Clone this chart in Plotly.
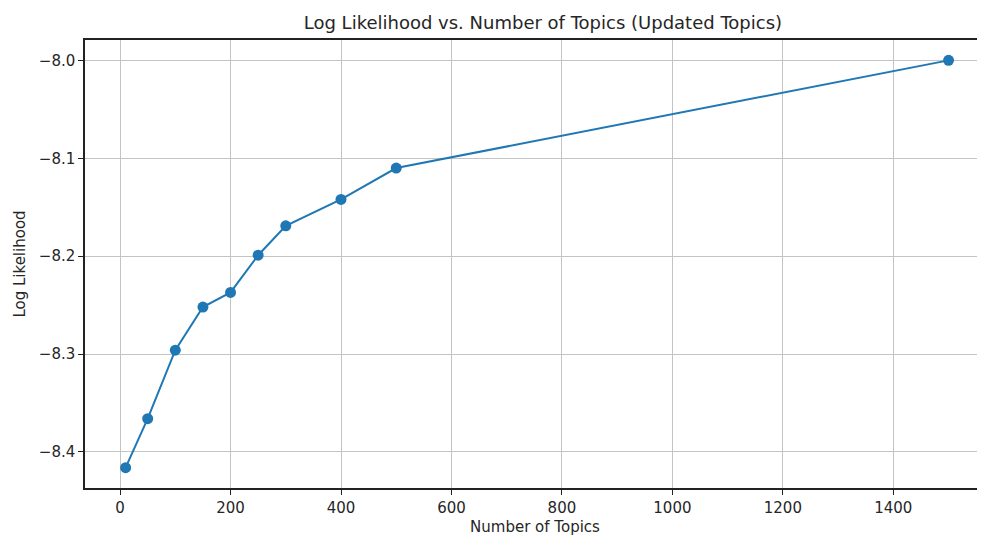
import plotly.graph_objects as go

num_topics = [10, 50, 100, 150, 200, 250, 300, 400, 500, 1500]
log_likelihood = [-8.416, -8.366, -8.296, -8.252, -8.237, -8.199, -8.169, -8.142, -8.110, -8.000]

x_ticks = [0, 200, 400, 600, 800, 1000, 1200, 1400]
y_ticks = [-8.4, -8.3, -8.2, -8.1, -8.0]
y_tick_labels = ["\u22128.4", "\u22128.3", "\u22128.2", "\u22128.1", "\u22128.0"]

font_family = "DejaVu Sans, sans-serif"

fig = go.Figure()
fig.add_trace(go.Scatter(
    x=num_topics, y=log_likelihood, mode="lines+markers",
    line=dict(color="#1f77b4", width=2),
    marker=dict(color="#1f77b4", size=11),
    showlegend=False,
))

fig.update_layout(
    width=977, height=530,
    margin=dict(l=77, r=0, t=32, b=50),
    paper_bgcolor="white", plot_bgcolor="white",
    font=dict(family=font_family, color="#262626", size=15),
    title=dict(text="Log Likelihood vs. Number of Topics (Updated Topics)",
               x=0.5475, xanchor="center", y=0.972, yanchor="middle",
               font=dict(size=18, color="#262626")),
    xaxis=dict(
        range=[-63.5, 1566], tickvals=x_ticks, ticks="outside", ticklen=5,
        tickcolor="#222", showgrid=True, gridcolor="#c4c4c4", gridwidth=1.3,
        showline=True, linecolor="#222", linewidth=1.5, mirror=True,
        zeroline=False, tickfont=dict(size=15),
        title=dict(text="Number of Topics", font=dict(size=15), standoff=6),
    ),
    yaxis=dict(
        range=[-8.4368, -7.9792], tickvals=y_ticks, ticktext=y_tick_labels,
        ticks="outside", ticklen=5, tickcolor="#222", showgrid=True,
        gridcolor="#c4c4c4", gridwidth=1.3, showline=True, linecolor="#222",
        linewidth=1.5, mirror=False, zeroline=False, tickfont=dict(size=15),
        title=dict(text="Log Likelihood", font=dict(size=15), standoff=10),
    ),
)

fig.write_html("out.html")
